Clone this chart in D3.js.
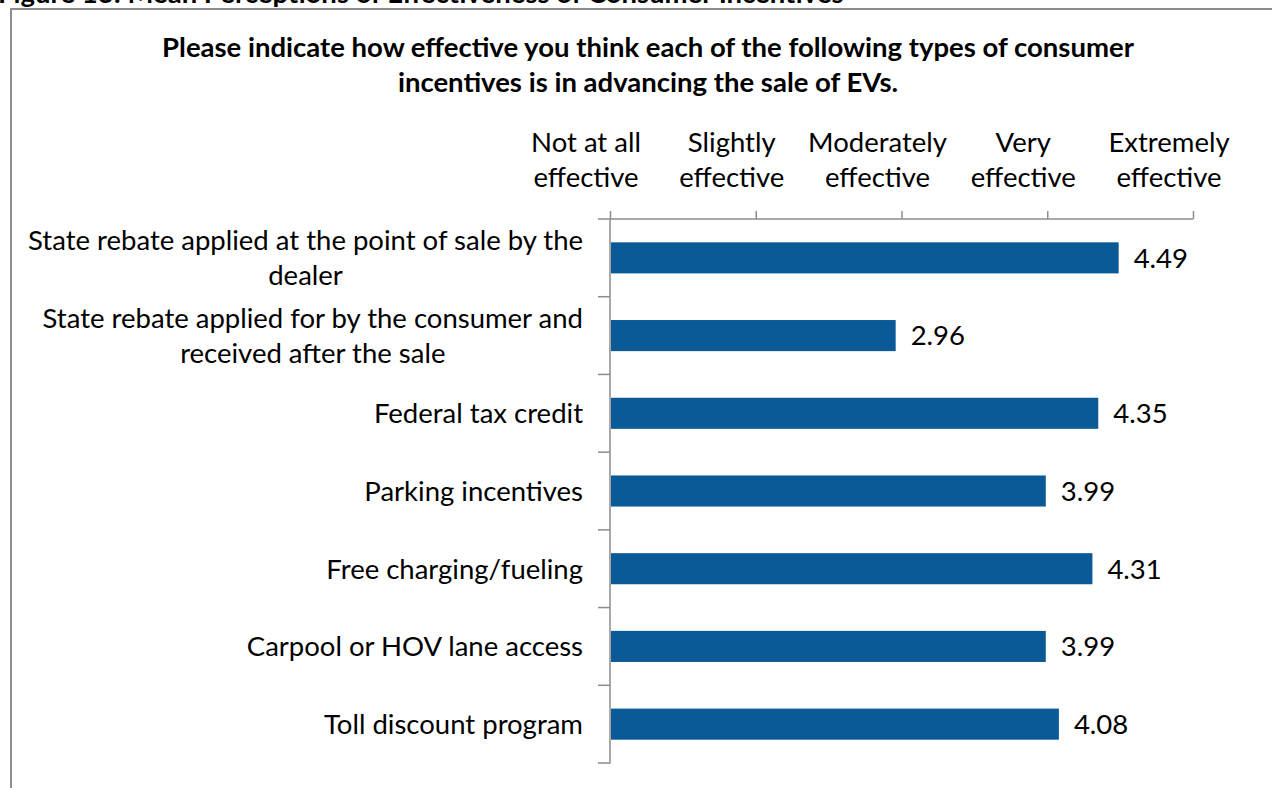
<!DOCTYPE html>
<html><head><meta charset="utf-8">
<script src="https://cdn.jsdelivr.net/npm/d3@7"></script>
<style>
body{margin:0;background:#fff;}
text{font-family:Lato,"Open Sans",sans-serif;fill:#000;}
</style></head>
<body><svg id="c" width="1272" height="788"></svg>
<script>
const categories = [
  ["State rebate applied at the point of sale by the","dealer"],
  ["State rebate applied for by the consumer and","received after the sale"],
  ["Federal tax credit"],
  ["Parking incentives"],
  ["Free charging/fueling"],
  ["Carpool or HOV lane access"],
  ["Toll discount program"]
];
const values = [4.49, 2.96, 4.35, 3.99, 4.31, 3.99, 4.08];
const scaleTicks = [1, 2, 3, 4, 5];
const scaleLabels = [["Not at all","effective"],["Slightly","effective"],["Moderately","effective"],["Very","effective"],["Extremely","effective"]];
const titleLines = ["Please indicate how effective you think each of the following types of consumer","incentives is in advancing the sale of EVs."];
const caption = "Figure 13: Mean Perceptions of Effectiveness of Consumer Incentives";

(function(){
const svg = d3.select("#c");
const L = 610, R = 1193, T = 219, B = 763;
const FS = "27.5px";
const x = d3.scaleLinear().domain([1,5]).range([L,R]);
const y = d3.scaleBand().domain(d3.range(categories.length)).range([T,B]).paddingInner(0.6).paddingOuter(0.3);
const yb = d3.scaleBand().domain(d3.range(categories.length)).range([T,B]);

svg.append("text").attr("x",-2).attr("y",3).style("font-weight","bold").style("font-size","27.5px").text(caption);
svg.append("path").attr("d","M11,788 V9 H1280").attr("fill","none").attr("stroke","#8c8c8c").attr("stroke-width",2);

svg.append("g").selectAll("text").data(titleLines).join("text")
  .attr("x",648).attr("y",(d,i)=>57+i*35).attr("text-anchor","middle")
  .style("font-weight","bold").style("font-size","27.5px").text(d=>d);

const xAxis = d3.axisTop(x).tickValues(scaleTicks).tickSize(8).tickFormat("");
const gx = svg.append("g").attr("transform",`translate(0,${T})`).call(xAxis);
gx.selectAll("path,line").attr("stroke","#8c8c8c").attr("stroke-width",1.5);
gx.select(".domain").attr("d",`M${L-12},0H${R}`);

const hl = svg.append("g").selectAll("text").data(scaleLabels).join("text")
  .attr("text-anchor","middle").style("font-size",FS);
hl.each(function(d,i){
  d3.select(this).selectAll("tspan").data(d).join("tspan")
    .attr("x",x(scaleTicks[i])-24).attr("y",(t,j)=>152+j*35).text(t=>t);
});

const gy = svg.append("g").attr("transform",`translate(${L},0)`);
gy.append("path").attr("d",`M0,${T}V${B}H-12`).attr("stroke","#8c8c8c").attr("stroke-width",1.5).attr("fill","none");
const bounds = d3.range(1,categories.length).map(i=>yb(i));
gy.selectAll("line.b").data(bounds).join("line").attr("class","b")
  .attr("x1",-12).attr("x2",0).attr("y1",d=>d).attr("y2",d=>d).attr("stroke","#8c8c8c").attr("stroke-width",1.5);

svg.append("g").selectAll("rect").data(values).join("rect")
  .attr("x",x(1)+1).attr("y",(d,i)=>y(i)).attr("height",y.bandwidth())
  .attr("width",d=>x(d)-x(1)-1).attr("fill","#0b5a98");

svg.append("g").selectAll("text").data(values).join("text")
  .attr("x",d=>x(d)+15).attr("y",(d,i)=>y(i)+y.bandwidth()/2).attr("dy","0.36em")
  .style("font-size",FS).text(d=>d.toFixed(2));

const cl = svg.append("g").selectAll("text").data(categories).join("text")
  .attr("text-anchor","middle").style("font-size",FS);
cl.each(function(d,i){
  const cy = y(i)+y.bandwidth()/2;
  const n = d.length;
  const t = d3.select(this);
  const sp = t.selectAll("tspan").data(d).join("tspan")
    .attr("y",(s,j)=>cy+(j-(n-1)/2)*35).attr("dy","0.36em").text(s=>s);
  let maxW = 0;
  sp.each(function(){ maxW = Math.max(maxW, this.getComputedTextLength()); });
  sp.attr("x", 583 - maxW/2);
});
})();
</script></body></html>
